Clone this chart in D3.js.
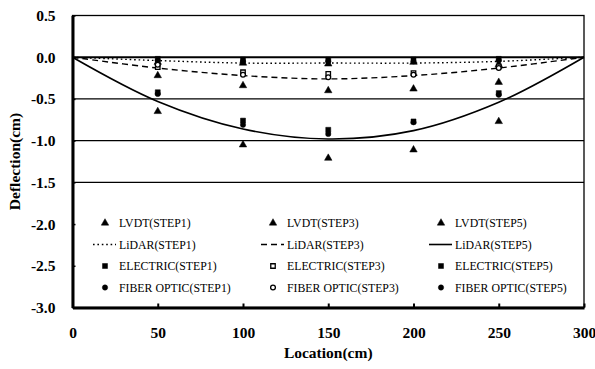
<!DOCTYPE html>
<html>
<head>
<meta charset="utf-8">
<script src="https://cdn.jsdelivr.net/npm/d3@7"></script>
<style>
	body { margin: 0; background: #fff; }
	svg { display: block; }
	.tick text { font-family: "Liberation Serif", "Times New Roman", serif; font-weight: bold; font-size: 15.5px; fill: #000; }
	.legend text { font-family: "Liberation Serif", "Times New Roman", serif; font-size: 11.8px; fill: #000; }
	.title { font-family: "Liberation Serif", "Times New Roman", serif; font-weight: bold; font-size: 15.5px; fill: #000; }
</style>
</head>
<body>
<svg id="chart" width="595" height="369"></svg>
<script>
// measured locations (cm)
var locations = [50, 100, 150, 200, 250];
var lvdt1 = [-0.06, -0.07, -0.08, -0.06, -0.09];
var lvdt3 = [-0.22, -0.34, -0.40, -0.38, -0.30];
var lvdt5 = [-0.65, -1.05, -1.21, -1.11, -0.77];
var electric1 = [-0.02, -0.03, -0.03, -0.03, -0.02];
var electric3 = [-0.12, -0.18, -0.20, -0.19, -0.11];
var electric5 = [-0.42, -0.76, -0.87, -0.77, -0.43];
var fiber1 = [-0.04, -0.05, -0.05, -0.05, -0.04];
var fiber3 = [-0.09, -0.21, -0.24, -0.21, -0.13];
var fiber5 = [-0.44, -0.81, -0.92, -0.78, -0.45];

// LiDAR profiles
var lidarX = [0, 50, 100, 150, 200, 250, 300];
var lidar1 = [0, -0.04, -0.07, -0.07, -0.07, -0.05, 0];
var lidar3 = [0, -0.13, -0.22, -0.26, -0.22, -0.13, 0];
var lidar5 = [0, -0.53, -0.86, -0.98, -0.88, -0.54, 0];

var xTicks = [0, 50, 100, 150, 200, 250, 300];
var yTicks = [0.5, 0.0, -0.5, -1.0, -1.5, -2.0, -2.5, -3.0];
var gridTicks = [-0.5, -1.0, -1.5];

var svg = d3.select("#chart");
var margin = {left: 72.5, right: 11, top: 15.5, bottom: 61.5};
var width = 595, height = 369;

var x = d3.scaleLinear().domain([0, 300]).range([margin.left, width - margin.right]);
var y = d3.scaleLinear().domain([-3, 0.5]).range([height - margin.bottom, margin.top]);

/*
frame & grid
*/
svg.append("g").selectAll("line")
	.data(gridTicks).enter()
	.append("line")
	.attr("x1", x(0)).attr("x2", x(300))
	.attr("y1", function(d) { return y(d); })
	.attr("y2", function(d) { return y(d); })
	.attr("stroke", "#000").attr("stroke-width", 1.3);
svg.append("rect")
	.attr("x", x(0)).attr("y", y(0.5))
	.attr("width", x(300) - x(0)).attr("height", y(-3) - y(0.5))
	.attr("fill", "none").attr("stroke", "#000").attr("stroke-width", 1.3);
svg.append("line")
	.attr("x1", x(0)).attr("x2", x(300))
	.attr("y1", y(0)).attr("y2", y(0))
	.attr("stroke", "#000").attr("stroke-width", 2);

var xAxis = d3.axisBottom(x).tickValues(xTicks).tickSizeInner(-4).tickSizeOuter(0).tickPadding(19)
	.tickFormat(d3.format("d"));
var yAxis = d3.axisLeft(y).tickValues(yTicks).tickSizeInner(-3).tickSizeOuter(0).tickPadding(17)
	.tickFormat(d3.format(".1f"));

var gx = svg.append("g").attr("transform", "translate(0," + y(-3) + ")").call(xAxis);
var gy = svg.append("g").attr("transform", "translate(" + x(0) + ",0)").call(yAxis);
gx.select(".domain").attr("stroke-width", 3);
gy.select(".domain").attr("stroke-width", 3);
gx.selectAll(".tick line").attr("stroke-width", 2);
gy.selectAll(".tick line").attr("stroke-width", 1.5);
gy.selectAll(".tick text").text(function(d) { return d3.format(".1f")(d).replace("\u2212", "-"); });

/*
LiDAR lines
*/
var line = d3.line()
	.x(function(d) { return x(d[0]); })
	.y(function(d) { return y(d[1]); })
	.curve(d3.curveCatmullRom.alpha(0.5));
var lidarSeries = [
	{values: lidar1, dash: "1.6,2.8", w: 1.4},
	{values: lidar3, dash: "6,4", w: 1.4},
	{values: lidar5, dash: null, w: 1.6}
];
lidarSeries.forEach(function(s) {
	svg.append("path")
		.datum(lidarX.map(function(v, i) { return [v, s.values[i]]; }))
		.attr("d", line)
		.attr("fill", "none")
		.attr("stroke", "#000")
		.attr("stroke-width", s.w)
		.attr("stroke-dasharray", s.dash);
});

/*
markers
*/
var markerSeries = [
	{name: "LVDT(STEP1)", values: lvdt1, type: d3.symbolTriangle, size: 24, open: false},
	{name: "LVDT(STEP3)", values: lvdt3, type: d3.symbolTriangle, size: 24, open: false},
	{name: "LVDT(STEP5)", values: lvdt5, type: d3.symbolTriangle, size: 24, open: false},
	{name: "ELECTRIC(STEP1)", values: electric1, type: d3.symbolSquare, size: 25, open: false},
	{name: "ELECTRIC(STEP3)", values: electric3, type: d3.symbolSquare, size: 20, open: true},
	{name: "ELECTRIC(STEP5)", values: electric5, type: d3.symbolSquare, size: 25, open: false},
	{name: "FIBER OPTIC(STEP1)", values: fiber1, type: d3.symbolCircle, size: 22, open: false},
	{name: "FIBER OPTIC(STEP3)", values: fiber3, type: d3.symbolCircle, size: 18, open: true},
	{name: "FIBER OPTIC(STEP5)", values: fiber5, type: d3.symbolCircle, size: 22, open: false}
];
function drawSymbol(g, s) {
	g.attr("d", d3.symbol().type(s.type).size(s.size))
		.attr("fill", s.open ? "#fff" : "#000")
		.attr("stroke", "#000")
		.attr("stroke-width", s.open ? 1.3 : 0.5);
}
markerSeries.forEach(function(s) {
	svg.append("g").selectAll("path")
		.data(s.values).enter()
		.append("path")
		.attr("transform", function(d, i) { return "translate(" + x(locations[i]) + "," + y(d) + ")"; })
		.call(drawSymbol, s);
});

/*
legend
*/
var legendItems = [
	{name: "LVDT(STEP1)", marker: markerSeries[0]},
	{name: "LVDT(STEP3)", marker: markerSeries[1]},
	{name: "LVDT(STEP5)", marker: markerSeries[2]},
	{name: "LiDAR(STEP1)", line: lidarSeries[0]},
	{name: "LiDAR(STEP3)", line: lidarSeries[1]},
	{name: "LiDAR(STEP5)", line: lidarSeries[2]},
	{name: "ELECTRIC(STEP1)", marker: markerSeries[3]},
	{name: "ELECTRIC(STEP3)", marker: markerSeries[4]},
	{name: "ELECTRIC(STEP5)", marker: markerSeries[5]},
	{name: "FIBER OPTIC(STEP1)", marker: markerSeries[6]},
	{name: "FIBER OPTIC(STEP3)", marker: markerSeries[7]},
	{name: "FIBER OPTIC(STEP5)", marker: markerSeries[8]}
];
var colX = [105, 273, 441], rowY = [223, 244.5, 266, 287.5];
var legend = svg.append("g").attr("class", "legend");
legendItems.forEach(function(item, i) {
	var cx = colX[i % 3], cy = rowY[Math.floor(i / 3)];
	var g = legend.append("g").attr("transform", "translate(" + cx + "," + cy + ")");
	if (item.line) {
		g.append("line").attr("x1", -12).attr("x2", 11).attr("y1", 0).attr("y2", 0)
			.attr("stroke", "#000").attr("stroke-width", item.line.w)
			.attr("stroke-dasharray", item.line.dash);
	} else {
		g.append("path").call(drawSymbol, item.marker);
	}
	g.append("text").attr("x", 14).attr("dy", "0.35em").text(item.name);
});

/*
axis titles
*/
svg.append("text").attr("class", "title")
	.attr("x", (x(0) + x(300)) / 2).attr("y", 358)
	.attr("text-anchor", "middle").text("Location(cm)");
svg.append("text").attr("class", "title")
	.attr("transform", "translate(20," + ((y(0.5) + y(-3)) / 2) + ") rotate(-90)")
	.attr("text-anchor", "middle").text("Deflection(cm)");
</script>
</body>
</html>
